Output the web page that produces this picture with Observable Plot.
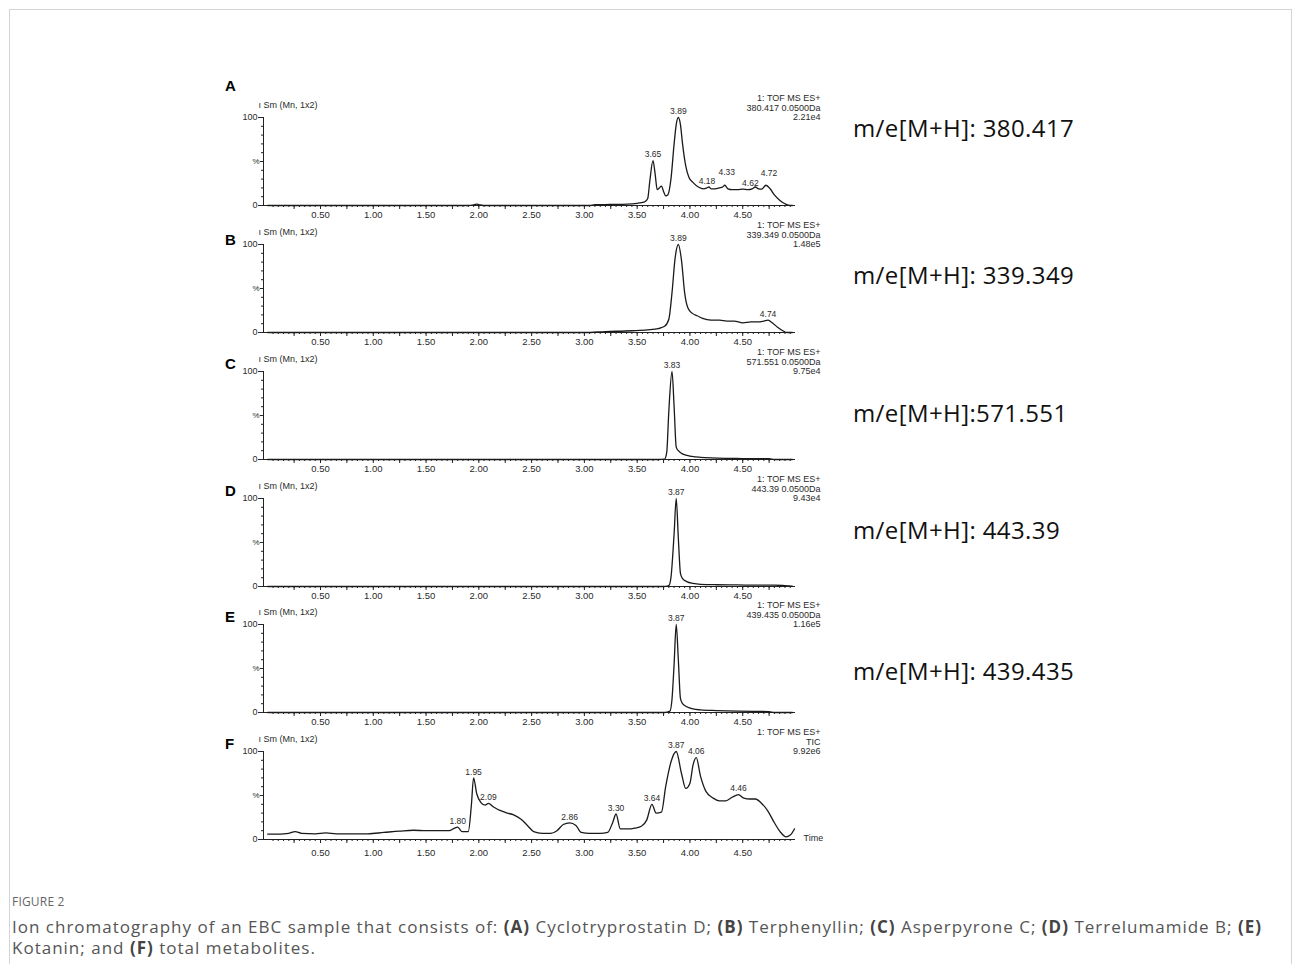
<!DOCTYPE html>
<html><head><meta charset="utf-8">
<script src="https://cdn.jsdelivr.net/npm/d3@7"></script>
<script src="https://cdn.jsdelivr.net/npm/@observablehq/plot@0.6"></script>
<style>
body{margin:0;background:#fff;}
#fig{position:relative;width:1295px;height:964px;overflow:hidden;background:#fff;}
.frame{position:absolute;left:9px;top:9px;width:1283px;height:1000px;border:1px solid #d4d4d4;box-sizing:border-box;}
.panel{position:absolute;left:200px;}
.letter{position:absolute;left:225px;font:bold 15px/18px "Liberation Sans",Arial,sans-serif;color:#000;}
.me{position:absolute;left:853px;font:24px/30px "Open Sans",sans-serif;letter-spacing:0.4px;color:#111;white-space:nowrap;}
.figt{position:absolute;left:12px;top:894px;font:12px/16px "Open Sans",sans-serif;color:#666;letter-spacing:0.2px;white-space:nowrap;}
.capline{position:absolute;left:12px;font:17px/21px "Open Sans",sans-serif;color:#555;white-space:nowrap;}
.capline span.b{font-weight:bold;color:#444;}
</style>
</head><body>
<div id="fig"><div class="frame"></div></div>
<script>
// ---- data (retention time in min, relative intensity %) ----
const timesA = [0, 1.90, 1.96, 1.98, 2.00, 2.04, 2.10, 3.05, 3.10, 3.30, 3.50, 3.57, 3.60, 3.62, 3.65, 3.67, 3.69, 3.71, 3.73, 3.75, 3.77, 3.79, 3.82, 3.85, 3.87, 3.89, 3.91, 3.93, 3.96, 3.99, 4.03, 4.08, 4.13, 4.16, 4.18, 4.20, 4.24, 4.28, 4.31, 4.33, 4.36, 4.40, 4.45, 4.50, 4.55, 4.59, 4.62, 4.65, 4.68, 4.72, 4.76, 4.80, 4.85, 4.90, 4.93, 4.97];
const pctA   = [0, 0, 1, 1.5, 1, 0, 0, 0, 1, 1.2, 2.5, 4, 8, 28, 51, 36, 18, 20, 22, 16, 11, 12, 30, 70, 92, 100, 92, 70, 45, 32, 26, 21, 19, 20, 21, 19, 19, 20, 21, 23, 19, 18, 18, 18.5, 18, 19, 21, 19, 18.5, 23, 19, 12, 6, 2, 0.5, 0];
const peakTimesA = [3.65, 3.89, 4.18, 4.33, 4.62, 4.72];
const peakPctA   = [51, 100, 21, 23, 21, 23];
const headerA = ["1: TOF MS ES+", "380.417 0.0500Da", "2.21e4"];

const timesB = [0, 3.00, 3.20, 3.45, 3.60, 3.70, 3.76, 3.80, 3.83, 3.86, 3.89, 3.92, 3.95, 3.98, 4.02, 4.07, 4.12, 4.20, 4.28, 4.35, 4.42, 4.50, 4.58, 4.65, 4.70, 4.74, 4.78, 4.83, 4.88, 4.92, 4.97];
const pctB   = [0, 0, 1, 2, 3, 4.5, 7, 15, 45, 85, 100, 82, 45, 28, 22, 19, 16, 14, 14, 13, 13, 11, 12, 12, 13, 14, 11, 6, 2, 0, 0];
const peakTimesB = [3.89, 4.74];
const peakPctB   = [100, 14];
const headerB = ["1: TOF MS ES+", "339.349 0.0500Da", "1.48e5"];

const timesC = [0, 3.70, 3.76, 3.78, 3.80, 3.83, 3.85, 3.87, 3.89, 3.92, 3.96, 4.02, 4.10, 4.20, 4.35, 4.50, 4.65, 4.75, 4.80, 4.97];
const pctC   = [0, 0, 0.5, 8, 55, 100, 60, 14, 10, 7, 5, 3.5, 2.5, 1.8, 1.3, 1.1, 1, 1, 0, 0];
const peakTimesC = [3.83];
const peakPctC   = [100];
const headerC = ["1: TOF MS ES+", "571.551 0.0500Da", "9.75e4"];

const timesD = [0, 3.75, 3.80, 3.82, 3.85, 3.87, 3.89, 3.91, 3.93, 3.97, 4.03, 4.10, 4.25, 4.45, 4.65, 4.80, 4.90, 4.97];
const pctD   = [0, 0, 1, 10, 60, 100, 55, 15, 9, 5.5, 3.5, 2.5, 2, 1.8, 1.5, 1.5, 1, 0.5];
const peakTimesD = [3.87];
const peakPctD   = [100];
const headerD = ["1: TOF MS ES+", "443.39 0.0500Da", "9.43e4"];

const timesE = [0, 3.76, 3.81, 3.83, 3.85, 3.87, 3.89, 3.91, 3.93, 3.97, 4.03, 4.10, 4.25, 4.45, 4.65, 4.75, 4.80, 4.97];
const pctE   = [0, 0, 1.5, 15, 55, 100, 60, 16, 10, 6.5, 4, 3, 2.2, 1.5, 1.2, 1, 0, 0];
const peakTimesE = [3.87];
const peakPctE   = [100];
const headerE = ["1: TOF MS ES+", "439.435 0.0500Da", "1.16e5"];

const timesF = [0.00, 0.05, 0.20, 0.26, 0.32, 0.45, 0.55, 0.65, 0.80, 0.95, 1.10, 1.25, 1.38, 1.50, 1.62, 1.72, 1.77, 1.80, 1.84, 1.90, 1.93, 1.95, 1.98, 2.02, 2.06, 2.09, 2.14, 2.20, 2.27, 2.33, 2.40, 2.46, 2.52, 2.60, 2.68, 2.74, 2.80, 2.86, 2.92, 2.97, 3.05, 3.15, 3.22, 3.27, 3.30, 3.34, 3.40, 3.48, 3.54, 3.59, 3.64, 3.68, 3.73, 3.77, 3.82, 3.87, 3.92, 3.96, 4.00, 4.03, 4.06, 4.10, 4.15, 4.22, 4.28, 4.34, 4.40, 4.46, 4.51, 4.57, 4.62, 4.68, 4.74, 4.80, 4.86, 4.91, 4.95, 4.99];
const pctF   = [6, 6, 7, 9, 7, 6.5, 7.5, 6.5, 6.5, 6.5, 8, 9.5, 10.5, 10, 10, 10, 13, 14, 9, 9, 40, 70, 52, 42, 39, 41, 37, 33, 30, 28, 23, 16, 9, 7, 7, 10, 17, 19, 16, 8, 7, 7, 8, 20, 29, 12, 12, 13, 15, 22, 40, 30, 31, 60, 88, 100, 75, 58, 64, 85, 93, 72, 55, 47, 44, 44, 48, 51, 47, 46, 46, 41, 32, 19, 8, 3, 5, 12];
const peakTimesF = [1.80, 1.95, 2.09, 2.86, 3.30, 3.64, 3.87, 4.06, 4.46];
const peakPctF   = [14, 70, 41, 19, 29, 40, 100, 93, 51];
const headerF = ["1: TOF MS ES+", "TIC", "9.92e6"];

const panelLetters = ["A", "B", "C", "D", "E", "F"];
const massLabels = ["m/e[M+H]: 380.417", "m/e[M+H]: 339.349", "m/e[M+H]:571.551", "m/e[M+H]: 443.39", "m/e[M+H]: 439.435"];
const xLabelTicks = [0.5, 1.0, 1.5, 2.0, 2.5, 3.0, 3.5, 4.0, 4.5];
const yLabelTicks = [0, 100];
const captionLine1 = [["Ion chromatography of an EBC sample that consists of: ", 0], ["(A)", 1], [" Cyclotryprostatin D; ", 0], ["(B)", 1], [" Terphenyllin; ", 0], ["(C)", 1], [" Asperpyrone C; ", 0], ["(D)", 1], [" Terrelumamide B; ", 0], ["(E)", 1]];
const captionLine2 = [["Kotanin; and ", 0], ["(F)", 1], [" total metabolites.", 0]];

// ---- layout ----
const fig = document.getElementById("fig");
const y100 = [117, 244, 371, 498, 624, 751];
const letterY = [86, 240, 364, 491, 617, 744];
const massY = [128, 275, 413, 530, 671];
// per-label pixel nudges (dx, dy) for crowded peak labels in panel A
const labelNudge = {0: [[0, -6], [0, -6], [-2, -6], [2, -13], [-5, -4], [3, -12]]};
const X0 = -0.04, X1 = 5.0;
const minorX = d3.range(1, 100).map(k => +(k * 0.05).toFixed(2));
const quarterX = d3.range(1, 20).map(k => k * 0.25);
const minorY = d3.range(10, 100, 10).filter(d => d !== 50);

const panels = [
  [timesA, pctA, peakTimesA, peakPctA, headerA],
  [timesB, pctB, peakTimesB, peakPctB, headerB],
  [timesC, pctC, peakTimesC, peakPctC, headerC],
  [timesD, pctD, peakTimesD, peakPctD, headerD],
  [timesE, pctE, peakTimesE, peakPctE, headerE],
  [timesF, pctF, peakTimesF, peakPctF, headerF]
];

panels.forEach(([times, pct, pkT, pkV, header], i) => {
  const isF = i === 5;
  const data = times.map((t, j) => ({t, v: pct[j]}));
  const peaks = pkT.map((t, j) => ({t, v: pkV[j], s: t.toFixed(2)}));
  const ink = "#222", txt = "#2a2a2a";
  const marks = [
    Plot.ruleY([0], {stroke: ink, strokeWidth: 1}),
    Plot.ruleX([X0], {y1: 0, y2: 100, stroke: ink, strokeWidth: 1}),
    Plot.axisX({ticks: minorX, tickSize: 2, tickFormat: () => "", color: ink, label: null}),
    Plot.axisX({ticks: quarterX, tickSize: 4, tickFormat: () => "", color: ink, label: null}),
    Plot.axisX({ticks: xLabelTicks, tickSize: 0, tickPadding: isF ? 10 : 6, tickFormat: d3.format(".2f"), color: txt, fontSize: 9.5, label: null}),
    Plot.axisY({ticks: minorY, tickSize: 2, tickFormat: () => "", color: ink, label: null}),
    Plot.axisY({ticks: yLabelTicks, tickSize: 5, tickPadding: 1, color: txt, fontSize: 9, label: null}),
    Plot.axisY({ticks: [50], tickSize: 3, tickPadding: 1, tickFormat: () => "%", color: txt, fontSize: 8, label: null}),
    Plot.line(data, {x: "t", y: "v", curve: "monotone-x", stroke: "#1a1a1a", strokeWidth: 1.3}),
    Plot.text([header.join("\n")], {frameAnchor: "top-right", textAnchor: "end", lineAnchor: "top", dx: 25, dy: -23, lineHeight: 1.05, fontSize: 9, fill: txt}),
    Plot.text(["ı Sm (Mn, 1x2)"], {frameAnchor: "top-left", textAnchor: "start", dx: -5, dy: -16, fontSize: 9, fill: txt})
  ];
  const nudge = labelNudge[i];
  if (nudge) {
    peaks.forEach((p, j) => marks.push(Plot.text([p], {x: "t", y: "v", text: "s", dx: nudge[j][0], dy: nudge[j][1], fontSize: 8.5, fill: txt})));
  } else {
    marks.push(Plot.text(peaks, {x: "t", y: "v", text: "s", dy: -6, fontSize: 8.5, fill: txt}));
  }
  if (isF) marks.push(Plot.text(["Time"], {frameAnchor: "bottom-right", textAnchor: "start", dx: 8, dy: 1, fontSize: 9, fill: txt}));
  const chart = Plot.plot({
    width: 640, height: 140,
    marginTop: 30, marginBottom: 22, marginLeft: 63, marginRight: 45,
    x: {domain: [X0, X1], label: null},
    y: {domain: [0, 100], label: null},
    style: {background: "transparent", overflow: "visible", fontFamily: "Liberation Sans, Arial, sans-serif", fontSize: "9px"},
    marks
  });
  const wrap = document.createElement("div");
  wrap.className = "panel";
  wrap.style.top = (y100[i] - 30) + "px";
  wrap.appendChild(chart);
  fig.appendChild(wrap);

  const L = document.createElement("div");
  L.className = "letter";
  L.style.top = (letterY[i] - 9) + "px";
  L.textContent = panelLetters[i];
  fig.appendChild(L);

  if (i < massLabels.length) {
    const m = document.createElement("div");
    m.className = "me";
    m.style.top = (massY[i] - 15) + "px";
    m.textContent = massLabels[i];
    fig.appendChild(m);
  }
});

const ft = document.createElement("div");
ft.className = "figt";
ft.textContent = "FIGURE 2";
fig.appendChild(ft);

function capLine(parts, top) {
  const d = document.createElement("div");
  d.className = "capline";
  d.style.top = top + "px";
  parts.forEach(([s, b]) => {
    const sp = document.createElement("span");
    if (b) sp.className = "b";
    sp.textContent = s;
    d.appendChild(sp);
  });
  fig.appendChild(d);
  return d;
}
const c1 = capLine(captionLine1, 916);
const c2 = capLine(captionLine2, 937);
// stretch line 1 to the reference's line length
const nChars = captionLine1.map(p => p[0]).join("").length;
const ls = Math.max(0, (1250 - c1.getBoundingClientRect().width) / nChars);
c1.style.letterSpacing = ls + "px";
c2.style.letterSpacing = ls + "px";
</script>
</body></html>
